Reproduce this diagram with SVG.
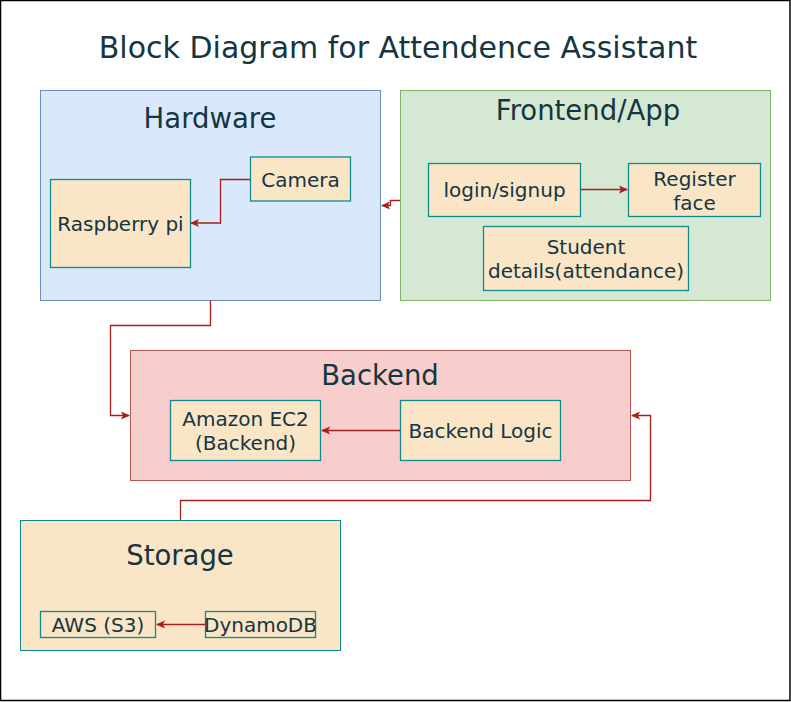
<svg xmlns="http://www.w3.org/2000/svg" width="791" height="702" viewBox="0 0 791 702">
<defs>
<marker id="arr" markerWidth="10" markerHeight="10" refX="8" refY="5" orient="auto" markerUnits="userSpaceOnUse">
<path d="M0,1 L9,5 L0,9 L2,5 Z" fill="#A8201A"/>
</marker>
</defs>
<style>
text{font-family:"DejaVu Sans",Verdana,sans-serif;fill:#143642;text-anchor:middle}
.title{font-size:30px}
.ct{font-size:27.5px}
.nt{font-size:20px}
.node{fill:#FAE5C7;stroke:#0F8B8D;stroke-width:1.3}
.conn{fill:none;stroke:#A8201A;stroke-width:1.3;marker-end:url(#arr)}
</style>
<rect x="0.5" y="0.5" width="789.5" height="700" fill="#ffffff" stroke="#000000" stroke-width="1.5"/>
<text class="title" x="398" y="58">Block Diagram for Attendence Assistant</text>

<g id="hardware">
<rect x="40.5" y="90.5" width="340" height="210" fill="#dae8fc" stroke="#6c8ebf"/>
<text class="ct" x="210" y="128">Hardware</text>
</g>
<g id="frontend">
<rect x="400.5" y="90.5" width="370" height="210" fill="#d5e8d4" stroke="#82b366"/>
<text class="ct" x="588" y="120">Frontend/App</text>
</g>
<g id="backend">
<rect x="130.5" y="350.5" width="500" height="130" fill="#f8cecc" stroke="#b85450"/>
<text class="ct" x="380" y="385">Backend</text>
</g>
<g id="storage">
<rect x="20.5" y="520.5" width="320" height="130" fill="#FAE5C7" stroke="#0F8B8D"/>
<text class="ct" x="180" y="565">Storage</text>
</g>

<g id="camera">
<rect class="node" x="250.5" y="157" width="100" height="44"/>
<text class="nt" x="300.5" y="187">Camera</text>
</g>
<g id="raspberry">
<rect class="node" x="50.5" y="179.5" width="140" height="88"/>
<text class="nt" x="120.5" y="231">Raspberry pi</text>
</g>
<g id="login">
<rect class="node" x="428.5" y="163.5" width="152" height="53"/>
<text class="nt" x="504.5" y="197">login/signup</text>
</g>
<g id="register">
<rect class="node" x="628.5" y="163.5" width="132" height="53"/>
<text class="nt" x="694.5" y="186">Register</text>
<text class="nt" x="694.5" y="210">face</text>
</g>
<g id="student">
<rect class="node" x="483.5" y="226.5" width="205" height="64"/>
<text class="nt" x="586" y="254">Student</text>
<text class="nt" x="586" y="278">details(attendance)</text>
</g>
<g id="ec2">
<rect class="node" x="170.5" y="400.5" width="150" height="60"/>
<text class="nt" x="245.5" y="426">Amazon EC2</text>
<text class="nt" x="245.5" y="450">(Backend)</text>
</g>
<g id="logic">
<rect class="node" x="400.5" y="400.5" width="160" height="60"/>
<text class="nt" x="480.5" y="438">Backend Logic</text>
</g>
<g id="s3">
<rect class="node" x="40.5" y="611.5" width="115" height="26"/>
<text class="nt" x="98" y="632">AWS (S3)</text>
</g>
<g id="dynamo">
<rect class="node" x="205.5" y="611.5" width="110" height="26"/>
<text class="nt" x="260.5" y="632">DynamoDB</text>
</g>

<g id="connectors">
<path class="conn" d="M250,179.5 H220.5 V223 H191"/>
<path class="conn" d="M580.5,189.5 H627"/>
<path class="conn" d="M400,200.5 H390.5 V205.5 H382"/>
<path class="conn" d="M210.5,300.5 V325.5 H110.5 V415.5 H129"/>
<path class="conn" d="M400,430.5 H322"/>
<path class="conn" d="M180.5,520 V500.5 H650.5 V415.5 H632"/>
<path class="conn" d="M205,624.5 H157"/>
</g>
</svg>
